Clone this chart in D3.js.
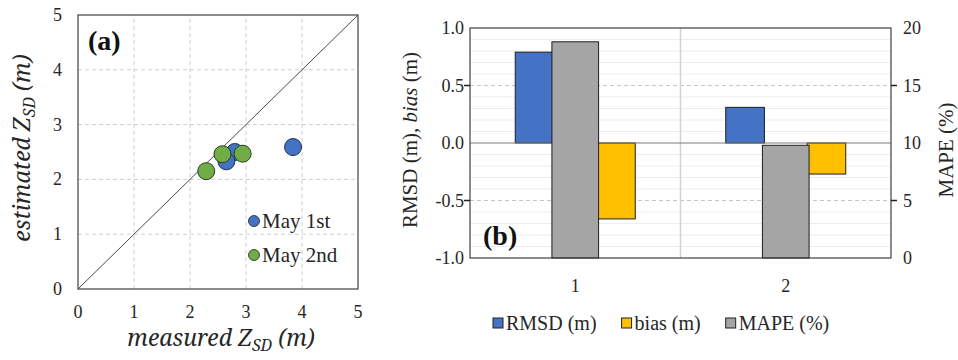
<!DOCTYPE html>
<html><head><meta charset="utf-8">
<script src="https://cdn.jsdelivr.net/npm/d3@7"></script>
<style>body{margin:0;background:#fff} svg{display:block}</style>
</head><body><svg id="chart" width="958" height="360"></svg>
<script>
// ---- Panel (a): measured vs estimated Secchi depth ----
const may1Measured  = [3.84, 2.80, 2.65];
const may1Estimated = [2.59, 2.50, 2.33];
const may2Measured  = [2.29, 2.58, 2.94];
const may2Estimated = [2.15, 2.46, 2.47];
const scatterTicks  = [0, 1, 2, 3, 4, 5];
const scatterLegend = ["May 1st", "May 2nd"];

// ---- Panel (b): error statistics per group ----
const groups     = ["1", "2"];
const rmsd       = [0.79, 0.31];
const bias       = [-0.66, -0.27];
const mape       = [18.8, 9.8];
const leftTicks  = [1.0, 0.5, 0.0, -0.5, -1.0];
const rightTicks = [20, 15, 10, 5, 0];
const seriesNames = ["RMSD (m)", "bias (m)", "MAPE (%)"];

const BLUE = "#4472c4", GREEN = "#70ad47", YELLOW = "#ffc000", GREY = "#a5a5a5";
const INK = "#262626";
const SERIF = "Liberation Serif";
const MATH = "Noto Serif";

const svg = d3.select("#chart");

function label(sel, family, size) {
  return sel.style("font-family", family).style("font-size", size + "px").attr("fill", INK);
}

// ================= Panel (a) =================
const ax = d3.scaleLinear().domain([0, 5]).range([78, 358]);
const ay = d3.scaleLinear().domain([0, 5]).range([289, 15]);
const pa = svg.append("g");

// dashed grid
pa.selectAll("line.gx").data(scatterTicks.slice(1, -1)).join("line")
  .attr("x1", d => ax(d)).attr("x2", d => ax(d)).attr("y1", ay(0)).attr("y2", ay(5))
  .attr("stroke", "#cfcfcf").attr("stroke-dasharray", "4,3");
pa.selectAll("line.gy").data(scatterTicks.slice(1, -1)).join("line")
  .attr("y1", d => ay(d)).attr("y2", d => ay(d)).attr("x1", ax(0)).attr("x2", ax(5))
  .attr("stroke", "#cfcfcf").attr("stroke-dasharray", "4,3");

// 1:1 line
pa.append("line").attr("x1", ax(0)).attr("y1", ay(0)).attr("x2", ax(5)).attr("y2", ay(5))
  .attr("stroke", "#4a4a4a").attr("stroke-width", 1);

// frame
pa.append("rect").attr("x", ax(0)).attr("y", ay(5)).attr("width", ax(5) - ax(0)).attr("height", ay(0) - ay(5))
  .attr("fill", "none").attr("stroke", "#404040").attr("stroke-width", 1.2);

// tick labels
pa.selectAll("text.tx").data(scatterTicks).join("text")
  .attr("x", d => ax(d)).attr("y", 318).attr("text-anchor", "middle")
  .call(label, SERIF, 18).text(d => d);
pa.selectAll("text.ty").data(scatterTicks).join("text")
  .attr("x", 62).attr("y", d => ay(d) + 6).attr("text-anchor", "end")
  .call(label, SERIF, 18).text(d => d);

// axis titles with subscript
function zsdTitle(sel, word) {
  sel.call(label, MATH, 23).style("font-style", "italic");
  sel.append("tspan").text(word + " Z");
  sel.append("tspan").style("font-size", "16px").attr("dy", 5).text("SD");
  sel.append("tspan").attr("dy", -5).text(" (m)");
}
pa.append("text").attr("x", 221).attr("y", 346).attr("text-anchor", "middle").call(zsdTitle, "measured");
pa.append("text").attr("transform", "translate(30,148) rotate(-90)").attr("text-anchor", "middle").call(zsdTitle, "estimated");

// panel letter
pa.append("text").attr("x", 88).attr("y", 50).call(label, SERIF, 28)
  .style("font-weight", "bold").attr("fill", "#111").text("(a)");

// points
const pts1 = may1Measured.map((m, i) => ({ m, e: may1Estimated[i] }));
const pts2 = may2Measured.map((m, i) => ({ m, e: may2Estimated[i] }));
pa.selectAll("circle.p1").data(pts1).join("circle")
  .attr("cx", d => ax(d.m)).attr("cy", d => ay(d.e)).attr("r", 8.5)
  .attr("fill", BLUE).attr("stroke", "#1f2f4f").attr("stroke-width", 1);
pa.selectAll("circle.p2").data(pts2).join("circle")
  .attr("cx", d => ax(d.m)).attr("cy", d => ay(d.e)).attr("r", 8.5)
  .attr("fill", GREEN).attr("stroke", "#2c3f1f").attr("stroke-width", 1);

// legend
const lg = pa.append("g");
[BLUE, GREEN].forEach((c, i) => {
  lg.append("circle").attr("cx", 254).attr("cy", 221 + i * 34).attr("r", 5.5)
    .attr("fill", c).attr("stroke", "#222").attr("stroke-width", 0.8);
  lg.append("text").attr("x", 262).attr("y", 228 + i * 34).call(label, SERIF, 21).text(scatterLegend[i]);
});

// ================= Panel (b) =================
const bx = d3.scaleBand().domain(groups).range([470, 891]).padding(0);
const byL = d3.scaleLinear().domain([-1, 1]).range([258, 28]);
const byR = d3.scaleLinear().domain([0, 20]).range([258, 28]);
const inner = d3.scaleBand().domain(["RMSD", "MAPE", "bias"]).range([-61, 61]).padding(0);
const pb = svg.append("g");

// minor grid every 0.1
pb.selectAll("line.minor").data(d3.range(-9, 10).map(d => d / 10).filter(d => Math.abs(d) !== 0.5 && d !== 0))
  .join("line").attr("x1", 470).attr("x2", 891).attr("y1", d => byL(d)).attr("y2", d => byL(d))
  .attr("stroke", "#ececec").attr("stroke-width", 1);
// major dashed grid
pb.selectAll("line.major").data([0.5, -0.5]).join("line")
  .attr("x1", 470).attr("x2", 891).attr("y1", d => byL(d)).attr("y2", d => byL(d))
  .attr("stroke", "#c4c4c4").attr("stroke-dasharray", "4,3");
// group separator
pb.append("line").attr("x1", bx("2")).attr("x2", bx("2")).attr("y1", 28).attr("y2", 258)
  .attr("stroke", "#d2d2d2").attr("stroke-width", 1.5);

// bars: RMSD and bias on the left axis, MAPE on the right axis
pb.selectAll("rect.rmsd").data(groups).join("rect")
  .attr("x", (g) => bx(g) + bx.bandwidth() / 2 + inner("RMSD") + 1)
  .attr("width", inner.bandwidth() - 2)
  .attr("y", (g, i) => byL(Math.max(0, rmsd[i])))
  .attr("height", (g, i) => Math.abs(byL(rmsd[i]) - byL(0)))
  .attr("fill", BLUE).attr("stroke", "#1e1e1e").attr("stroke-width", 1);
pb.selectAll("rect.bias").data(groups).join("rect")
  .attr("x", (g) => bx(g) + bx.bandwidth() / 2 + inner("bias") + 1)
  .attr("width", inner.bandwidth() - 2)
  .attr("y", (g, i) => byL(Math.max(0, bias[i])))
  .attr("height", (g, i) => Math.abs(byL(bias[i]) - byL(0)))
  .attr("fill", YELLOW).attr("stroke", "#1e1e1e").attr("stroke-width", 1);

// zero line
pb.append("line").attr("x1", 470).attr("x2", 891).attr("y1", byL(0)).attr("y2", byL(0))
  .attr("stroke", "#7a7a7a").attr("stroke-width", 1.2);

pb.selectAll("rect.mape").data(groups).join("rect")
  .attr("x", (g) => bx(g) + bx.bandwidth() / 2 + inner("MAPE") - 3)
  .attr("width", inner.bandwidth() + 6)
  .attr("y", (g, i) => byR(mape[i]))
  .attr("height", (g, i) => byR(0) - byR(mape[i]))
  .attr("fill", GREY).attr("stroke", "#1e1e1e").attr("stroke-width", 1);

// frame
pb.append("rect").attr("x", 470).attr("y", 28).attr("width", 421).attr("height", 230)
  .attr("fill", "none").attr("stroke", "#404040").attr("stroke-width", 1.2);

// tick marks at the dashed levels
pb.selectAll("line.tl").data([0.5, -0.5]).join("line")
  .attr("x1", 464).attr("x2", 470).attr("y1", d => byL(d)).attr("y2", d => byL(d)).attr("stroke", "#222").attr("stroke-width", 1.5);
pb.selectAll("line.tr").data([15, 5]).join("line")
  .attr("x1", 891).attr("x2", 897).attr("y1", d => byR(d)).attr("y2", d => byR(d)).attr("stroke", "#222").attr("stroke-width", 1.5);

// tick labels
pb.selectAll("text.tl").data(leftTicks).join("text")
  .attr("x", 464).attr("y", d => byL(d) + 6).attr("text-anchor", "end")
  .call(label, SERIF, 18).text(d => d.toFixed(1));
pb.selectAll("text.tr").data(rightTicks).join("text")
  .attr("x", 903).attr("y", d => byR(d) + 6).attr("text-anchor", "start")
  .call(label, SERIF, 18).text(d => d);
pb.selectAll("text.cat").data(groups).join("text")
  .attr("x", g => bx(g) + bx.bandwidth() / 2).attr("y", 292).attr("text-anchor", "middle")
  .call(label, SERIF, 18).text(g => g);

// axis titles
const lt = pb.append("text").attr("transform", "translate(417,140) rotate(-90)").attr("text-anchor", "middle")
  .call(label, SERIF, 21);
lt.append("tspan").text("RMSD (m), ");
lt.append("tspan").style("font-style", "italic").text("bias");
lt.append("tspan").text(" (m)");
pb.append("text").attr("transform", "translate(953,150) rotate(-90)").attr("text-anchor", "middle")
  .call(label, SERIF, 21).text("MAPE (%)");

// panel letter
pb.append("text").attr("x", 483).attr("y", 245).call(label, SERIF, 28)
  .style("font-weight", "bold").attr("fill", "#111").text("(b)");

// legend
const colors = [BLUE, YELLOW, GREY];
let lx = 493;
seriesNames.forEach((name, i) => {
  pb.append("rect").attr("x", lx).attr("y", 318).attr("width", 10).attr("height", 10)
    .attr("fill", colors[i]).attr("stroke", "#222").attr("stroke-width", 1);
  const t = pb.append("text").attr("x", lx + 13).attr("y", 330).call(label, SERIF, 20).text(name);
  lx += 13 + t.node().getComputedTextLength() + 25;
});
</script></body></html>
